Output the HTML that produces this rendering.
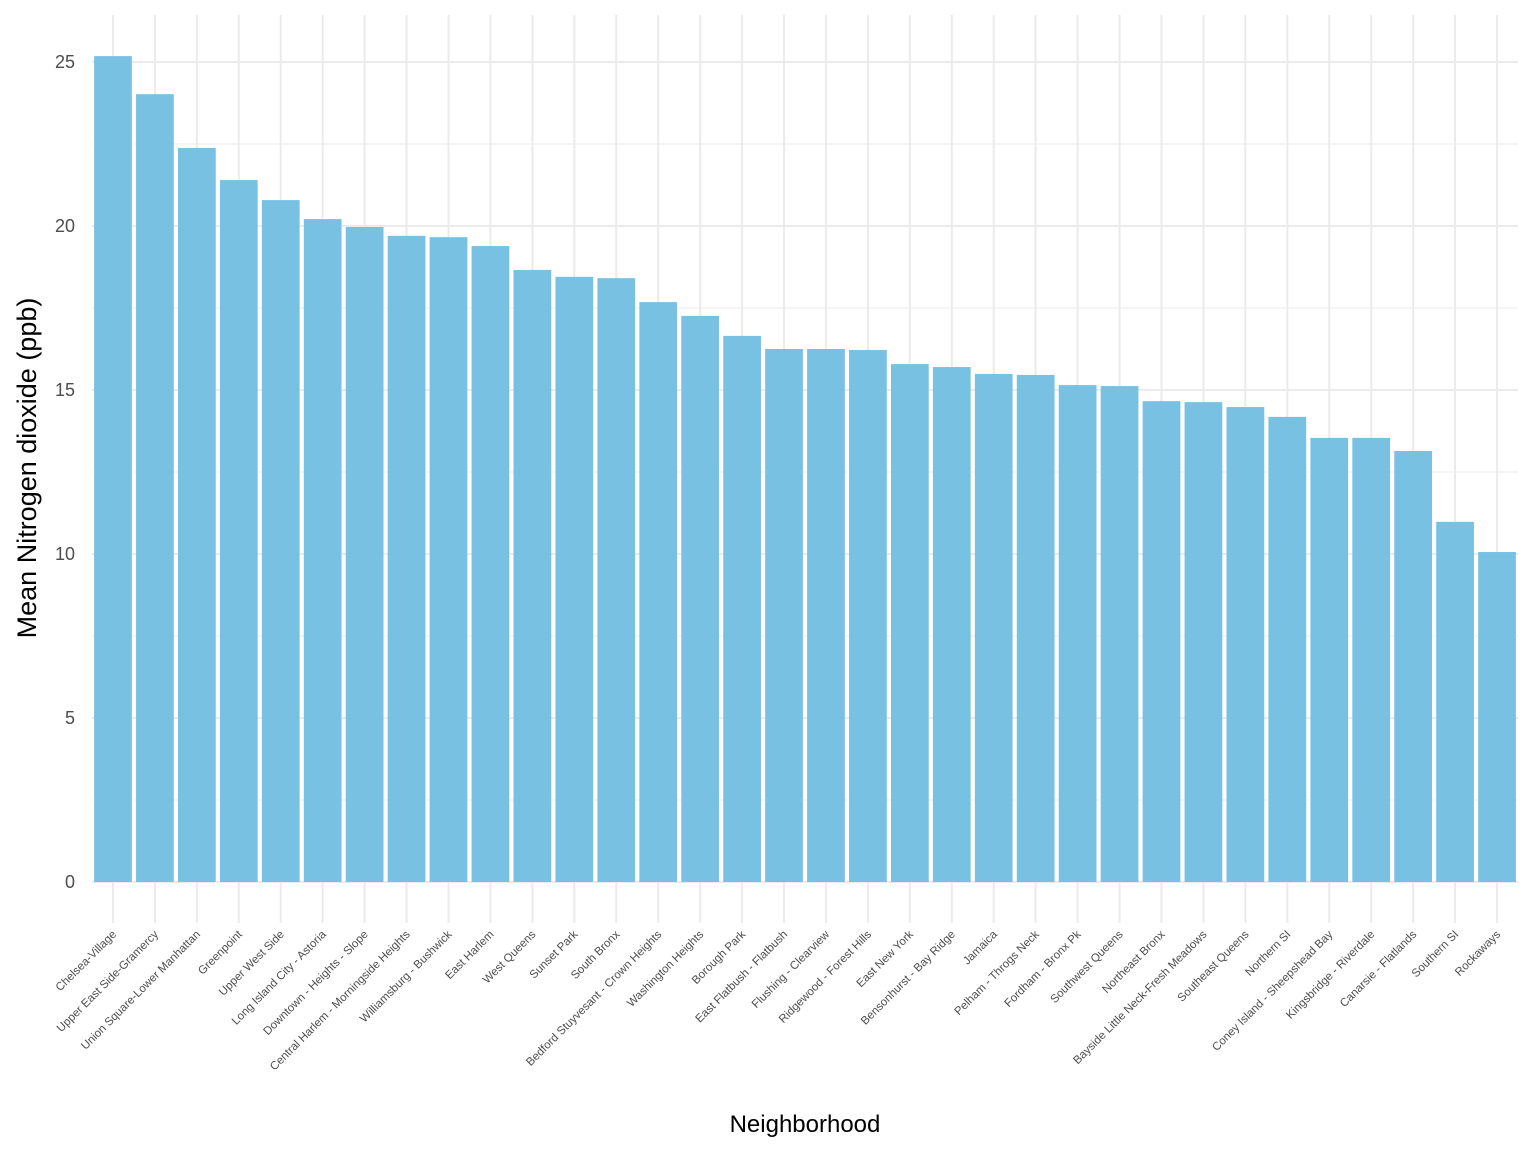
<!DOCTYPE html>
<html><head><meta charset="utf-8"><style>
html,body{margin:0;padding:0;background:#fff;}
svg{display:block;font-family:"Liberation Sans",Arial,sans-serif;}
</style></head><body>
<svg id="chart" width="1536" height="1152" viewBox="0 0 1536 1152">
<g id="grid"></g>
<g id="bars"></g>
<g id="yticks"></g>
<g id="xticks"></g>
<text x="805" y="1132" font-size="24" text-anchor="middle" fill="#000">Neighborhood</text>
<text transform="translate(36,468) rotate(-90)" font-size="27" text-anchor="middle" fill="#000">Mean Nitrogen dioxide (ppb)</text>
</svg>
<script>
const categories = ["Chelsea-Village","Upper East Side-Gramercy","Union Square-Lower Manhattan","Greenpoint","Upper West Side","Long Island City - Astoria","Downtown - Heights - Slope","Central Harlem - Morningside Heights","Williamsburg - Bushwick","East Harlem","West Queens","Sunset Park","South Bronx","Bedford Stuyvesant - Crown Heights","Washington Heights","Borough Park","East Flatbush - Flatbush","Flushing - Clearview","Ridgewood - Forest Hills","East New York","Bensonhurst - Bay Ridge","Jamaica","Pelham - Throgs Neck","Fordham - Bronx Pk","Southwest Queens","Northeast Bronx","Bayside Little Neck-Fresh Meadows","Southeast Queens","Northern SI","Coney Island - Sheepshead Bay","Kingsbridge - Riverdale","Canarsie - Flatlands","Southern SI","Rockaways"];
const values = [25.18,24.02,22.38,21.40,20.79,20.21,19.97,19.70,19.66,19.39,18.66,18.45,18.41,17.68,17.26,16.65,16.25,16.25,16.22,15.79,15.70,15.49,15.46,15.15,15.12,14.66,14.63,14.48,14.18,13.54,13.54,13.14,10.98,10.06];
const yTicks = [0,5,10,15,20,25];
const yMinor = [2.5,7.5,12.5,17.5,22.5];

const NS="http://www.w3.org/2000/svg";
const panelLeft=92,panelRight=1518,panelTop=15,panelBottom=923;
const y0=882, pxPerUnit=32.8;
const nCat=categories.length;
const step=(panelRight-panelLeft)/nCat;
function yScale(v){return y0-v*pxPerUnit;}
function xScale(i){return panelLeft+step*(i+0.5);}
function mk(tag,attrs,parent){const e=document.createElementNS(NS,tag);for(const k in attrs)e.setAttribute(k,attrs[k]);parent.appendChild(e);return e;}
const grid=document.getElementById('grid'),bars=document.getElementById('bars'),yt=document.getElementById('yticks'),xt=document.getElementById('xticks');
yMinor.forEach(v=>{const l=mk('line',{x1:panelLeft,x2:panelRight,y1:yScale(v),y2:yScale(v),stroke:'#ebebeb','stroke-width':1},grid);

});
yTicks.forEach(v=>{const l=mk('line',{x1:panelLeft,x2:panelRight,y1:yScale(v),y2:yScale(v),stroke:'#ebebeb','stroke-width':2},grid);


const t=mk('text',{x:75,y:yScale(v)+6,'font-size':18,'text-anchor':'end',fill:'#4d4d4d'},yt);t.textContent=v;

});
categories.forEach((c,i)=>{const x=xScale(i);
const g=mk('line',{x1:x,x2:x,y1:panelTop,y2:panelBottom,stroke:'#ebebeb','stroke-width':2},grid);


const w=step*0.9;
const r=mk('rect',{x:x-w/2,y:yScale(values[i]),width:w,height:y0-yScale(values[i]),fill:'#79c1e3'},bars);


const t=mk('text',{transform:`translate(${x+4},${935}) rotate(-45)`,'font-size':11.5,'text-anchor':'end',fill:'#4d4d4d'},xt);t.textContent=c;

});
</script>
</body></html>
